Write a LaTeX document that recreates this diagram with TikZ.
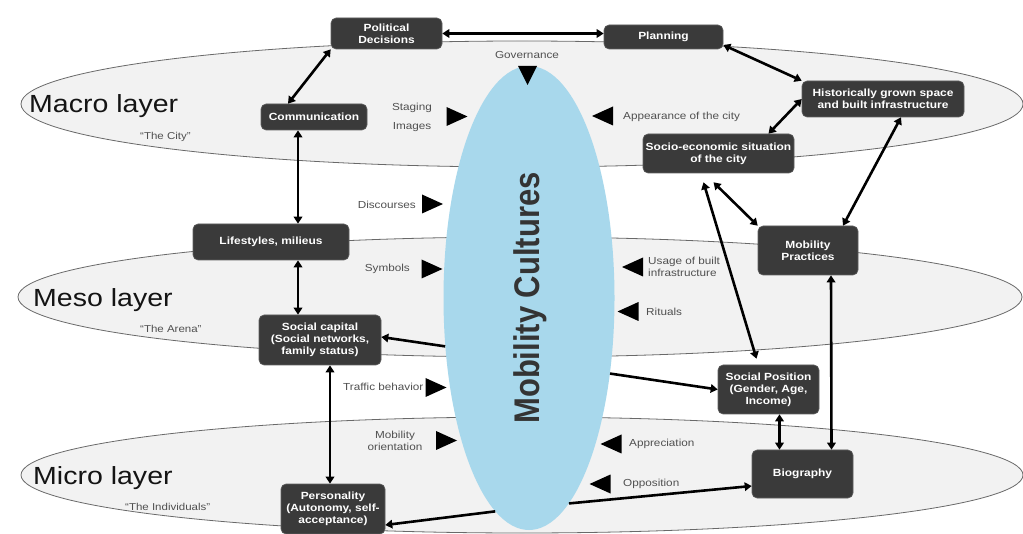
\documentclass[tikz,border=0pt]{standalone}
\usepackage{fontspec}
\usepackage{graphicx}
\setmainfont{Liberation Sans}[FakeStretch=1.15]
\newfontfamily\titlefont{Liberation Sans}
\usetikzlibrary{arrows.meta,shapes.geometric}

\definecolor{layerfill}{RGB}{242,242,242}
\definecolor{layerline}{RGB}{105,105,105}
\definecolor{culture}{RGB}{168,216,236}
\definecolor{boxfill}{RGB}{58,58,58}
\definecolor{boxline}{RGB}{95,95,95}
\definecolor{labelgray}{RGB}{80,80,80}
\definecolor{titlegray}{RGB}{52,52,52}

\tikzset{
  layer/.style={ellipse, draw=layerline, line width=0.8pt, fill=layerfill, inner sep=0pt},
  box/.style={rectangle, rounded corners=5pt, draw=boxline, line width=0.6pt, fill=boxfill,
    text=white, align=center, inner sep=2pt, font=\bfseries\fontsize{10.4}{12}\selectfont},
  lbl/.style={font=\fontsize{10.2}{12.5}\selectfont, text=labelgray, inner sep=0pt},
  quote/.style={font=\fontsize{10}{12}\selectfont, text=labelgray, inner sep=0pt, anchor=base west},
  layername/.style={font=\fontsize{24.8}{28}\selectfont, text=black!92, inner sep=0pt, anchor=base west},
  dbl/.style={line width=2.6pt, {Triangle[length=7pt,width=8.5pt]}-{Triangle[length=7pt,width=8.5pt]}},
  sgl/.style={line width=2.6pt, -{Triangle[length=7pt,width=8.5pt]}},
  tri right/.pic={\fill (-10.5,-9.5) -- (10.5,0) -- (-10.5,9.5) -- cycle;},
  tri left/.pic={\fill (10.5,-9.5) -- (-10.5,0) -- (10.5,9.5) -- cycle;},
  tri down/.pic={\fill (-9.5,-9.5) -- (9.5,-9.5) -- (0,9.5) -- cycle;},
}

\begin{document}
\begin{tikzpicture}[x=1pt,y=-1pt]
\fill[white] (0,0) rectangle (1023,534);
\useasboundingbox (0,0) rectangle (1023,534);

% the three layers
\node[layer, minimum width=1002pt, minimum height=126pt] (macro) at (522,104) {};
\node[layer, minimum width=1004pt, minimum height=120pt] (meso) at (520,297) {};
\node[layer, minimum width=1002pt, minimum height=116pt] (micro) at (522,475) {};

\node[layername] (macrolbl) at (29,113) {Macro layer};
\node[layername] (mesolbl) at (33,307) {Meso layer};
\node[layername] (microlbl) at (33,484) {Micro layer};
\node[quote] (city) at (140,140) {“The City”};
\node[quote] (arena) at (140,333) {“The Arena”};
\node[quote] (indiv) at (125,510) {“The Individuals”};

% mobility cultures in the middle
\node[ellipse, fill=culture, minimum width=171pt, minimum height=464pt, inner sep=0pt] (mc) at (529,298) {};
\node[rotate=90, text=titlegray, inner sep=0pt, font=\titlefont\bfseries\fontsize{31}{31}\selectfont]
  (mctext) at (530,298) {\scalebox{1}[1.15]{Mobility Cultures}};

% influences towards and from the culture
\node[lbl] (gov) at (527,55) {Governance};
\pic at (527.5,75.5) {tri down};
\node[lbl] (staging) at (412,108) {Staging};
\node[lbl] (images) at (412,127) {Images};
\pic at (457,116.5) {tri right};
\node[lbl, anchor=west] (appear) at (623,117) {Appearance of the city};
\pic at (602.5,116) {tri left};
\node[lbl, anchor=east] (disc) at (416,205) {Discourses};
\pic at (432.5,204) {tri right};
\node[lbl, anchor=east] (symb) at (410,269) {Symbols};
\pic at (432,269) {tri right};
\node[lbl, anchor=west, align=left] (usage) at (648,267) {Usage of built\\infrastructure};
\pic at (632.5,267) {tri left};
\node[lbl, anchor=west] (rituals) at (646,312) {Rituals};
\pic at (628,311.5) {tri left};
\node[lbl, anchor=west] (traffic) at (343,387) {Traffic behavior};
\pic at (436,387.5) {tri right};
\node[lbl, align=center] (orient) at (395,441) {Mobility\\orientation};
\pic at (446.5,440.5) {tri right};
\node[lbl, anchor=west] (apprec) at (629,444) {Appreciation};
\pic at (611,444) {tri left};
\node[lbl, anchor=west] (oppos) at (623,484) {Opposition};
\pic at (600,484) {tri left};

% factors
\node[box, minimum width=111pt, minimum height=31pt] (pol) at (386.5,33.5) {Political\\Decisions};
\node[box, minimum width=119pt, minimum height=24pt] (plan) at (663.5,37) {Planning};
\node[box, minimum width=106pt, minimum height=26pt] (comm) at (314,117) {Communication};
\node[box, minimum width=162pt, minimum height=36pt] (hist) at (883,99) {Historically grown space\\and built infrastructure};
\node[box, minimum width=151pt, minimum height=39pt] (socio) at (718.5,153.5) {Socio-economic situation\\of the city};
\node[box, minimum width=156pt, minimum height=36pt] (life) at (271,242) {Lifestyles, milieus};
\node[box, minimum width=100pt, minimum height=49pt] (mob) at (808,250.5) {Mobility\\Practices};
\node[box, minimum width=122pt, minimum height=50pt] (soccap) at (320,340) {Social capital\\(Social networks,\\family status)};
\node[box, minimum width=101pt, minimum height=49pt] (socpos) at (768.5,389.5) {Social Position\\(Gender, Age,\\Income)};
\node[box, minimum width=101pt, minimum height=48pt] (bio) at (802.5,474) {Biography};
\node[box, minimum width=104pt, minimum height=50pt] (pers) at (333,509) {Personality\\(Autonomy, self-\\acceptance)};

% relations between factors
\draw[dbl] (pol.east) -- (pol.east -| plan.west);
\draw[dbl] (pol.south west) -- ([xshift=-26pt]comm.north);
\draw[dbl] ([yshift=-8pt]plan.east) -- (hist.north west);
\draw[dbl] (hist.west) -- ([xshift=50pt]socio.north);
\draw[dbl] ([xshift=18pt]hist.south) -- ([xshift=35pt]mob.north);
\draw[dbl] ([xshift=-16pt]comm.south) -- ([xshift=-16pt]comm.south |- life.north);
\draw[dbl] ([shift={(-5pt,-9pt)}]socio.south) -- (mob.north west);
\draw[dbl] ([shift={(-15pt,-9pt)}]socio.south) -- ([shift={(-12pt,6pt)}]socpos.north);
\draw[dbl] ([xshift=27pt]life.south) -- ([xshift=-22pt]soccap.north);
\draw[dbl] ([xshift=10pt]soccap.south) -- ([xshift=-3pt]pers.north);
\draw[dbl] ([xshift=23pt]mob.south) -- ([xshift=29pt]bio.north);
\draw[dbl] ([xshift=11pt]socpos.south) -- ([xshift=-23pt]bio.north);

% effects of the mobility culture
\draw[sgl] (mc.210) -- ([yshift=3pt]soccap.east);
\draw[sgl] (mc.-43) -- (socpos.west);
\draw[sgl] (mc.261.5) -- ([yshift=-16pt]pers.east);
\draw[sgl] (mc.-79.3) -- ([yshift=-12pt]bio.west);
\end{tikzpicture}
\end{document}
